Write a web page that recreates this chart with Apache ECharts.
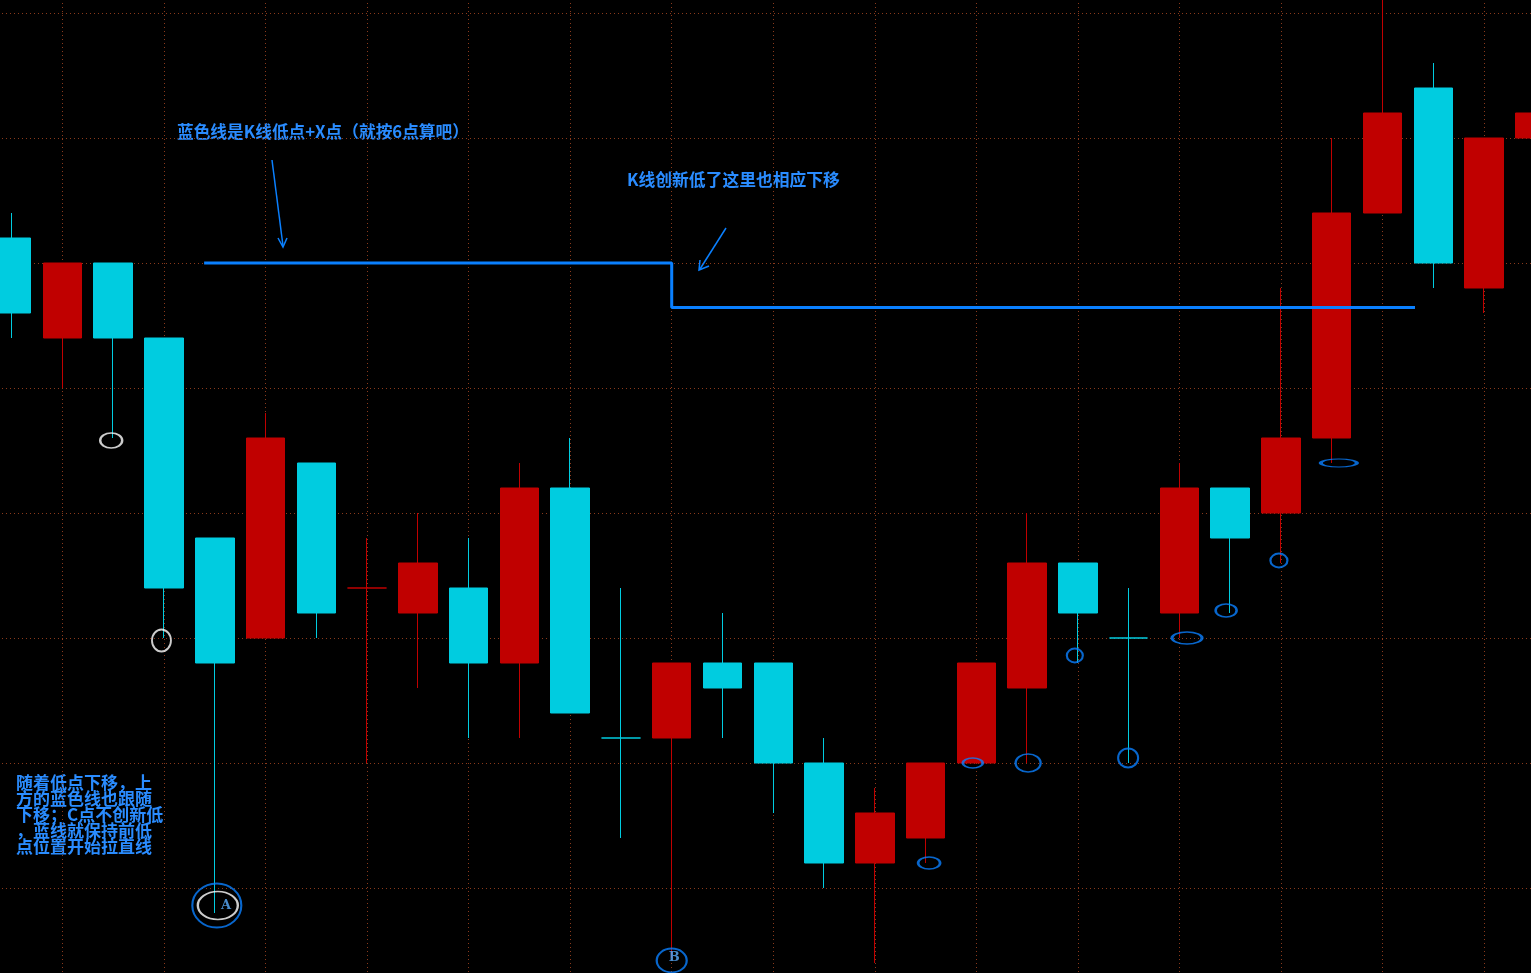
<!DOCTYPE html>
<html><head><meta charset="utf-8">
<script src="https://cdn.jsdelivr.net/npm/echarts@6/dist/echarts.min.js"></script>
<style>html,body{margin:0;padding:0;background:#000;overflow:hidden;width:1531px;height:973px;position:relative;}
#c{position:absolute;left:-50px;top:-50px;width:1700px;height:1150px;}</style>
</head><body><div id="c"></div>
<script>
// ---- data ----
const categories = ['K1','K2','K3','K4','K5','K6','K7','K8','K9','K10','K11','K12','K13','K14','K15','K16',
  'K17','K18','K19','K20','K21','K22','K23','K24','K25','K26','K27','K28','K29','K30','K31'];
const opens  = [126,122,125,122,114,110,117,112,111,112,109,116,106,106,109,109,105,101,102,105,108,113,110,111,116,115,118,127,132,124,130];
const closes = [123,125,122,112,109,118,111,112,113,109,116,107,106,109,108,105,101,103,105,109,113,111,110,116,114,118,127,131,125,130,131];
const lows   = [122,120,118,110, 99,110,110,105,108,106,106,107,102,97.2,106,103,100, 97,101,105,105,109,105,110,111,113,117,127,124,123,130];
const highs  = [127,125,125,122,114,119,117,114,115,114,117,118,112,109,111,109,106,104,105,109,115,113,112,117,116,124,130,136,133,130,131];

// blue reference line (low + X points), x in candle-index units
const lineX = [3.79, 13.0, 13.0, 27.64];
const lineY = [125, 125, 123.22, 123.22];

// marked lows: [candle position, price, ellipse w, ellipse h]
const whiteMarks = [[1.96,117.9,22,15],[2.95,109.9,19,22],[4.06,99.3,40,28]];
const blueMarks  = [[4.04,99.3,49,44],[13.0,97.1,30,24],[18.07,101.0,22,12],[18.93,105.0,20,10],[20.02,105.0,25,18],
  [20.94,109.3,16,14],[21.99,105.2,20,19],[23.15,110.0,30,12],[23.92,111.1,21,13],[24.96,113.1,17,14],[26.14,117.0,36,8]];
const pointLabels = [[4.22,99.3,'A'],[13.05,97.2,'B']];

const text1 = '蓝色线是K线低点+X点（就按6点算吧）';
const text2 = 'K线创新低了这里也相应下移';
const text3 = ['随着低点下移，上','方的蓝色线也跟随','下移；C点不创新低','，蓝线就保持前低','点位置开始拉直线'];

// ---- chart ----
const RED = '#C00000', CYAN = '#00CCE0', BLUE = '#0A80FF', TXT = '#2A8CFF', GRIDC = '#8A3A1C';
const FONT = "'Noto Sans CJK SC', 'Noto Sans', sans-serif";
const OFF = 50; // the chart div is shifted by -50px in both directions
const kdata = opens.map((o, i) => [o, closes[i], lows[i], highs[i]]);
const P = (x, y) => [x + OFF, y + OFF];

const chart = echarts.init(document.getElementById('c'), null, {renderer: 'canvas'});
const option = {
  backgroundColor: '#000',
  animation: false,
  grid: [
    {left: 11.7 + OFF, top: 13, width: 1523.1, height: 1050, containLabel: false},
    {left: 0, top: 13, width: 1700, height: 1050, containLabel: false}
  ],
  xAxis: [{
    type: 'category', data: categories, boundaryGap: false, gridIndex: 0,
    axisLine: {show: false}, axisTick: {show: false}, axisLabel: {show: false},
    splitLine: {show: true, interval: (i) => i % 2 === 1, lineStyle: {color: GRIDC, type: [1, 3], width: 1}}
  }, {
    type: 'value', min: 0, max: 30, show: false, gridIndex: 0
  }, {
    type: 'value', min: 0, max: 1, show: false, gridIndex: 1
  }],
  yAxis: [{
    type: 'value', min: 95, max: 137, interval: 5, gridIndex: 0,
    axisLine: {show: false}, axisTick: {show: false}, axisLabel: {show: false},
    splitLine: {show: false}
  }, {
    type: 'value', min: 95, max: 137, interval: 5, gridIndex: 1,
    axisLine: {show: false}, axisTick: {show: false}, axisLabel: {show: false},
    splitLine: {show: true, showMaxLine: false, lineStyle: {color: GRIDC, type: [1, 3], width: 1}}
  }],
  series: [{
    type: 'candlestick', data: kdata, barWidth: 39, clip: false,
    itemStyle: {color: RED, color0: CYAN, borderColor: RED, borderColor0: CYAN, borderWidth: 1}
  }, {
    type: 'line', xAxisIndex: 1, data: lineX.map((x, i) => [x, lineY[i]]),
    symbol: 'none', lineStyle: {color: BLUE, width: 3}, clip: false
  }, {
    type: 'scatter', xAxisIndex: 1, clip: false,
    data: whiteMarks.map(m => ({value: [m[0], m[1]], symbolSize: [m[2], m[3]]})),
    symbol: 'circle',
    itemStyle: {color: 'rgba(0,0,0,0)', borderColor: '#FFFFFF', borderWidth: 2}
  }, {
    type: 'scatter', xAxisIndex: 1, clip: false,
    data: blueMarks.map(m => ({value: [m[0], m[1]], symbolSize: [m[2], m[3]]})),
    symbol: 'circle',
    itemStyle: {color: 'rgba(0,0,0,0)', borderColor: BLUE, borderWidth: 2}
  }, {
    type: 'scatter', xAxisIndex: 1, clip: false, symbolSize: 1,
    itemStyle: {color: 'rgba(0,0,0,0)'},
    data: pointLabels.map(p => ({value: [p[0], p[1]], name: p[2]})),
    label: {show: true, position: 'inside', formatter: '{b}', color: '#5AAEFF',
      fontFamily: 'DejaVu Serif, serif', fontWeight: 'bold', fontSize: 13}
  }],
  graphic: [
    {type: 'text', x: 177 + OFF, y: 132 + OFF, style: {text: text1, fill: TXT, font: 'bold 16.7px ' + FONT, textVerticalAlign: 'middle'}},
    {type: 'text', x: 627 + OFF, y: 180 + OFF, style: {text: text2, fill: TXT, font: 'bold 16.8px ' + FONT, textVerticalAlign: 'middle'}},
    {type: 'text', x: 16 + OFF, y: 774 + OFF, style: {text: text3.join('\n'), fill: TXT, font: 'bold 17px ' + FONT, lineHeight: 16.2}},
    {type: 'polyline', shape: {points: [P(272,160), P(283,246)]}, style: {stroke: BLUE, lineWidth: 1.5, fill: null}},
    {type: 'polyline', shape: {points: [P(278,238), P(283,247), P(287,238)]}, style: {stroke: BLUE, lineWidth: 1.5, fill: null}},
    {type: 'polyline', shape: {points: [P(726,228), P(700,269)]}, style: {stroke: BLUE, lineWidth: 1.5, fill: null}},
    {type: 'polyline', shape: {points: [P(700,260), P(699,270), P(709,266)]}, style: {stroke: BLUE, lineWidth: 1.5, fill: null}}
  ]
};
chart.setOption(option);
</script>
</body></html>
